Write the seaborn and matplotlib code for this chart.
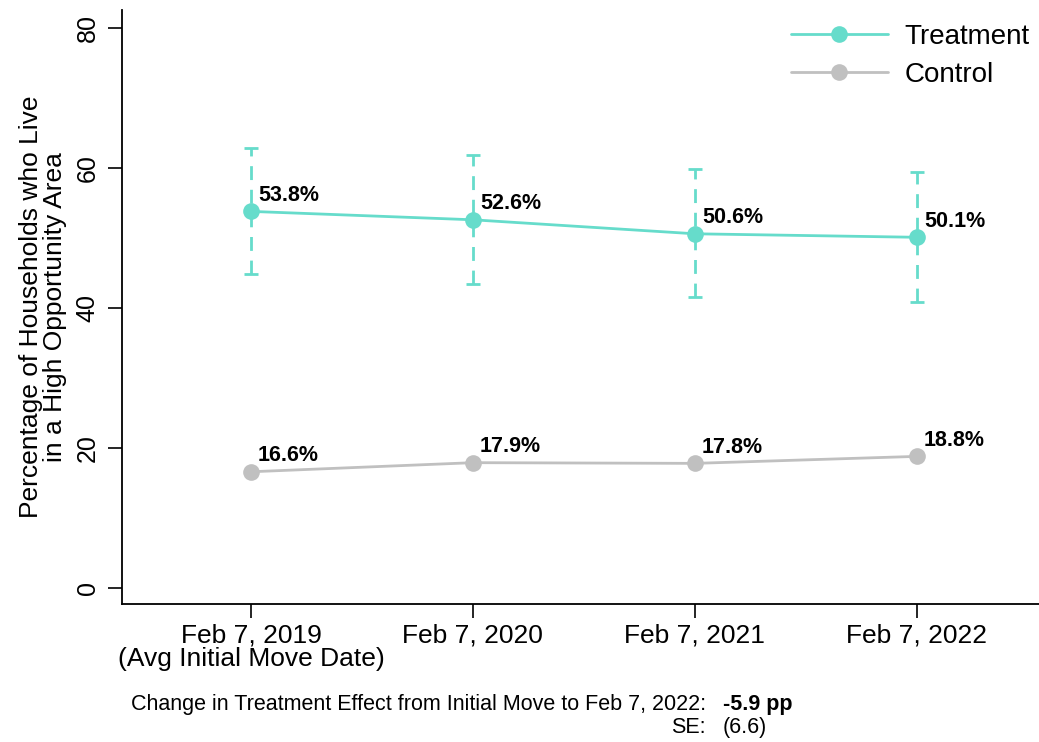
import matplotlib
matplotlib.use("Agg")
import matplotlib.pyplot as plt
import seaborn as sns
import pandas as pd
import numpy as np

# ---- data ----
dates = ["Feb 7, 2019\n(Avg Initial Move Date)", "Feb 7, 2020", "Feb 7, 2021", "Feb 7, 2022"]
treatment = [53.8, 52.6, 50.6, 50.1]
treatment_lo = [44.8, 43.4, 41.5, 40.9]
treatment_hi = [62.9, 61.9, 59.9, 59.4]
control = [16.6, 17.9, 17.8, 18.8]
groups = ["Treatment", "Control"]
effect_text = "-5.9 pp"
se_text = "(6.6)"

TEAL = "#66DCCB"
GREY = "#C0C0C0"

sns.set_style("white")
plt.rcParams["font.family"] = ["Liberation Sans", "DejaVu Sans"]
plt.rcParams["text.color"] = "black"
plt.rcParams["axes.labelcolor"] = "black"
plt.rcParams["xtick.color"] = "black"
plt.rcParams["ytick.color"] = "black"

pos = list(range(len(dates)))
df = pd.DataFrame({
    "x": pos * 2,
    "y": treatment + control,
    "group": [groups[0]] * len(pos) + [groups[1]] * len(pos),
})

fig = plt.figure(figsize=(10.39, 7.42), dpi=100)
ax = fig.add_axes([0.1174, 0.186, 0.8826, 0.8005])

# error bars for treatment
yerr = [np.array(treatment) - np.array(treatment_lo), np.array(treatment_hi) - np.array(treatment)]
eb = ax.errorbar(pos, treatment, yerr=yerr, fmt="none", ecolor=TEAL, elinewidth=2,
                 capsize=5, capthick=2, zorder=2)
for lc in eb[2]:
    lc.set_linestyle((0, (5, 3.5)))

sns.lineplot(data=df, x="x", y="y", hue="group", palette={groups[0]: TEAL, groups[1]: GREY},
             marker="o", markersize=12, markeredgewidth=0, linewidth=2, ax=ax, zorder=3,
             legend=True)

# value labels
for xi, v in zip(pos, treatment):
    ax.annotate(f"{v:.1f}%", (xi, v), xytext=(5, 7.5), textcoords="offset points",
                fontsize=15.5, fontweight="bold", ha="left", va="baseline", color="black")
for xi, v in zip(pos, control):
    ax.annotate(f"{v:.1f}%", (xi, v), xytext=(5, 7.5), textcoords="offset points",
                fontsize=15.5, fontweight="bold", ha="left", va="baseline", color="black")

ax.set_xlim(-0.581, 3.55)
ax.set_ylim(-2.29, 82.57)
ax.set_xticks(pos)
ax.set_xticklabels(dates, fontsize=19, linespacing=1.0)
ax.set_yticks([0, 20, 40, 60, 80])
ax.set_yticklabels(["0", "20", "40", "60", "80"], fontsize=18, rotation=90, va="center")
ax.tick_params(axis="both", which="both", direction="out", length=10, width=1.2,
               color="black", labelcolor="black", bottom=True, left=True)
ax.tick_params(axis="x", pad=4)
ax.tick_params(axis="y", pad=6)
ax.set_xlabel("")
ax.set_ylabel("Percentage of Households who Live\nin a High Opportunity Area", fontsize=19,
              linespacing=1.0, labelpad=6, color="black")

for s in ["top", "right"]:
    ax.spines[s].set_visible(False)
for s in ["left", "bottom"]:
    ax.spines[s].set_color("black")
    ax.spines[s].set_linewidth(1.3)

handles, labels = ax.get_legend_handles_labels()
leg = ax.legend(handles, labels, loc="upper right", bbox_to_anchor=(1.011, 1.01),
                frameon=False, fontsize=20, handlelength=3.5, handletextpad=0.6,
                labelspacing=0.45, borderaxespad=0.3)
for t in leg.get_texts():
    t.set_color("black")

fig.text(0.6795, 0.0499, "Change in Treatment Effect from Initial Move to Feb 7, 2022:",
         ha="right", va="center", fontsize=15.5, color="black")
fig.text(0.6959, 0.0499, effect_text, ha="left", va="center", fontsize=15.5,
         fontweight="bold", color="black")
fig.text(0.6795, 0.0189, "SE:", ha="right", va="center", fontsize=15.5, color="black")
fig.text(0.6959, 0.0189, se_text, ha="left", va="center", fontsize=15.5, color="black")

fig.savefig("out.png", dpi=100)
